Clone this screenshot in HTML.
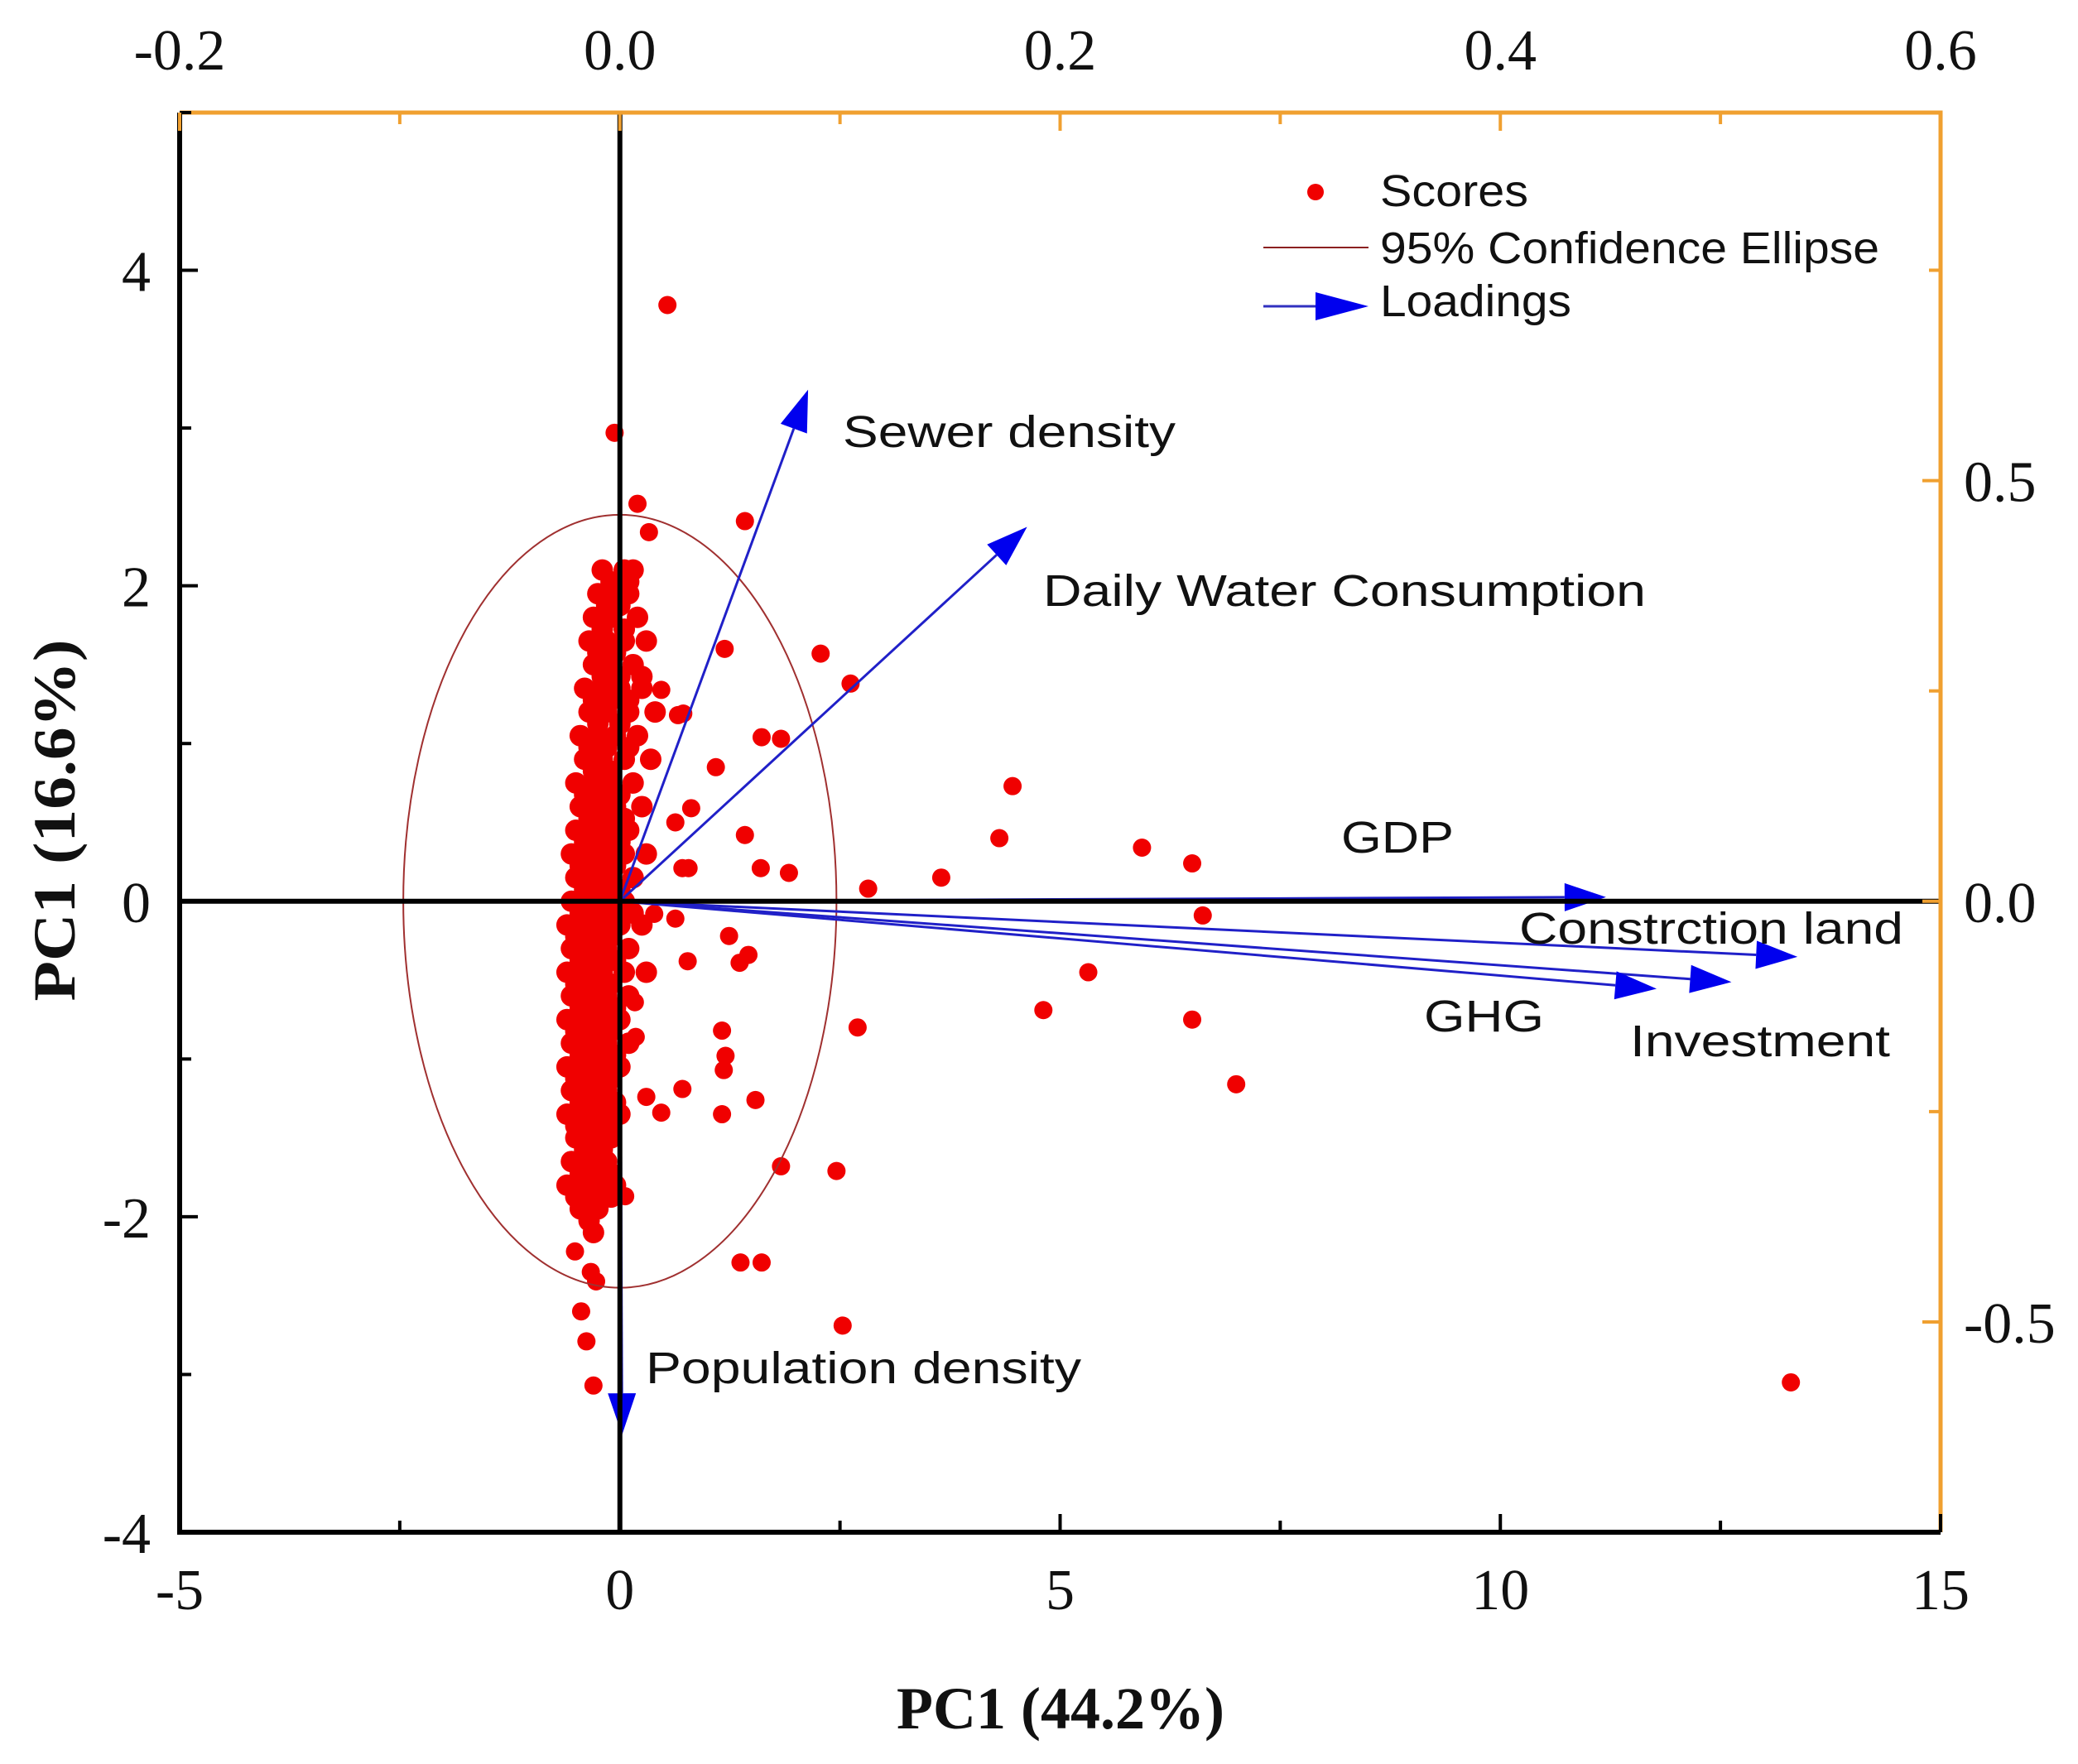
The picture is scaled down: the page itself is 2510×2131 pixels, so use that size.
<!DOCTYPE html>
<html><head><meta charset="utf-8"><style>
html,body{margin:0;padding:0;background:#fff;}
svg{display:block;}
.tk{font-family:"Liberation Serif",serif;font-size:70px;fill:#111;}
.lb{font-family:"Liberation Sans",sans-serif;font-size:54px;fill:#111;}
.tt{font-family:"Liberation Serif",serif;font-size:72px;font-weight:bold;fill:#111;}
</style></head><body>
<svg id="chart" width="2510" height="2131" viewBox="0 0 2510 2131" xmlns="http://www.w3.org/2000/svg">
<g id="scores"></g>
<g id="ell"></g>
<g id="load"></g>
<g id="axes"></g>
<g id="legend">
  <circle cx="1589" cy="232" r="10" fill="#f00000"/>
  <text class="lb" x="1667" y="249" textLength="179" lengthAdjust="spacingAndGlyphs">Scores</text>
  <line x1="1526" y1="299" x2="1653" y2="299" stroke="#8b2020" stroke-width="2"/>
  <text class="lb" x="1667" y="318" textLength="603" lengthAdjust="spacingAndGlyphs">95% Confidence Ellipse</text>
  <line x1="1526" y1="370" x2="1600" y2="370" stroke="#3030c0" stroke-width="3"/>
  <polygon points="1589,353 1653,370 1589,387" fill="#0000ee"/>
  <text class="lb" x="1667" y="382" textLength="231" lengthAdjust="spacingAndGlyphs">Loadings</text>
</g>
</svg>
<script>
// ---- data ----
const xTicksBottom = [-5, 0, 5, 10, 15];
const yTicksLeft = [-4, -2, 0, 2, 4];
const xTicksTop = [-0.2, 0.0, 0.2, 0.4, 0.6];
const xTickLabelsTop = ["-0.2", "0.0", "0.2", "0.4", "0.6"];
const yTicksRight = [-0.5, 0.0, 0.5];
const yTickLabelsRight = ["-0.5", "0.0", "0.5"];
const loadingNames = ["Sewer density","Daily Water Consumption","GDP","Constrction land","Investment","GHG","Population density"];
const loadingX = [0.0855, 0.185, 0.448, 0.535, 0.505, 0.471, 0.001];
const loadingY = [0.608, 0.445, 0.005, -0.066, -0.096, -0.104, -0.634];
const ellipseRx = 2.46;
const ellipseRy = 2.45;
const scoreOutliersX = [0.54,-0.06,0.2,0.33,1.42,1.19,2.28,2.62,1.61,1.83,1.09,4.46,4.31,5.93,6.5,6.62,2.82,3.65,1.92,1.6,1.42,0.78,0.71,0.63,0.81,0.66,0.72,0.47,5.32,4.81,6.5,7.0,2.7,1.24,0.77,1.36,1.46,1.16,1.2,1.18,0.71,0.47,1.54,1.16,1.83,2.46,1.37,1.61,2.53,13.3,-0.3,-0.38,-0.44,0.06,0.3,0.18,0.17,0.39,0.63,-0.51,-0.33,-0.27];
const scoreOutliersY = [3.78,2.97,2.52,2.34,2.41,1.6,1.57,1.38,1.04,1.03,0.85,0.73,0.4,0.34,0.24,-0.09,0.08,0.15,0.18,0.21,0.42,0.21,0.21,0.5,0.59,1.18,1.19,1.34,-0.45,-0.69,-0.75,-1.16,-0.8,-0.22,-0.38,-0.39,-0.34,-0.82,-0.98,-1.07,-1.19,-1.34,-1.26,-1.35,-1.68,-1.71,-2.29,-2.29,-2.69,-3.05,-3.07,-2.79,-2.6,-1.87,-1.24,-0.86,-0.64,-0.08,-0.11,-2.22,-2.35,-2.41];
const clusterRowY = [2.1,1.95,1.8,1.65,1.5,1.35,1.2,1.05,0.9,0.75,0.6,0.45,0.3,0.15,0.0,-0.15,-0.3,-0.45,-0.6,-0.75,-0.9,-1.05,-1.2,-1.35,-1.5,-1.65,-1.8,-1.95,-2.1];
const clusterRowX = [
 [-0.2,0.05,0.15],[-0.25,-0.05,0.1],[-0.3,-0.1,0.2],[-0.35,-0.15,0.05,0.3],[-0.3,-0.1,0.15],
 [-0.4,-0.2,0.0,0.25],[-0.35,-0.15,0.1,0.4],[-0.45,-0.25,-0.05,0.2],[-0.4,-0.2,0.05,0.35],[-0.5,-0.3,-0.1,0.15],
 [-0.45,-0.25,-0.05,0.25],[-0.5,-0.3,-0.1,0.1],[-0.55,-0.35,-0.15,0.05,0.3],[-0.5,-0.3,-0.1,0.15],[-0.55,-0.35,-0.15,0.05],
 [-0.6,-0.4,-0.2,0.0,0.25],[-0.55,-0.35,-0.15,0.1],[-0.6,-0.4,-0.2,0.05,0.3],[-0.55,-0.35,-0.15,0.1],[-0.6,-0.4,-0.2,0.0],
 [-0.55,-0.35,-0.15,0.1],[-0.6,-0.4,-0.2,0.0],[-0.55,-0.35,-0.15],[-0.6,-0.4,-0.2,0.0],[-0.5,-0.3,-0.1],
 [-0.55,-0.35,-0.15],[-0.6,-0.4,-0.2,-0.05],[-0.45,-0.25],[-0.3]
];
const clusterMidX = [
 [-0.1,0.1],[-0.15,0.0],[-0.2,0.05],[-0.25,-0.05],[-0.2,0.0,0.25],
 [-0.3,-0.1,0.1],[-0.25,0.0],[-0.35,-0.15,0.1],[-0.3,-0.1],[-0.4,-0.2,0.0],
 [-0.35,-0.15,0.05],[-0.4,-0.2,0.0],[-0.45,-0.25,-0.05],[-0.4,-0.2,0.0],[-0.45,-0.25,-0.05,0.15],
 [-0.5,-0.3,-0.1],[-0.45,-0.25,-0.05],[-0.5,-0.3,-0.1],[-0.45,-0.25,-0.05],[-0.5,-0.3,-0.1],
 [-0.45,-0.25,-0.05],[-0.5,-0.3,-0.1],[-0.45,-0.25,-0.05],[-0.5,-0.3,-0.1],[-0.4,-0.2],
 [-0.45,-0.25,-0.1],[-0.5,-0.3,-0.1],[-0.35]
];
// ---- axes functions ----
const L=217,R=2344,T=136,B=1851;
const xs=v=>L+(v+5)/20*(R-L);
const ys=v=>B-(v+4)/9*(B-T);
const xt=v=>xs(0)+v/0.6*(xs(15)-xs(0));
const yr=v=>ys(0)-v/0.5*(ys(0)-ys(2.667));
const NS="http://www.w3.org/2000/svg";
function mk(tag,attrs,parent,txt){const e=document.createElementNS(NS,tag);for(const k in attrs)e.setAttribute(k,attrs[k]);if(txt!==undefined)e.textContent=txt;parent.appendChild(e);return e;}
const gS=document.getElementById('scores'),gE=document.getElementById('ell'),gL=document.getElementById('load'),gA=document.getElementById('axes');
function dot(x,y,r){const c=mk('circle',{cx:xs(x),cy:ys(y),r:r,fill:'#f00000'},gS);

}
clusterRowY.forEach((y,i)=>clusterRowX[i].forEach(x=>dot(x,y,13)));
clusterMidX.forEach((row,i)=>{const y=(clusterRowY[i]+clusterRowY[i+1])/2;row.forEach(x=>dot(x,y,13));});
scoreOutliersX.forEach((x,i)=>dot(x,scoreOutliersY[i],11));
const el=mk('ellipse',{cx:xs(0),cy:ys(0),rx:xs(ellipseRx)-xs(0),ry:ys(0)-ys(ellipseRy),fill:'none',stroke:'#a03030','stroke-width':2},gE);


const hl=mk('line',{x1:L,y1:ys(0),x2:R,y2:ys(0),stroke:'#000','stroke-width':6},gA);


const vl=mk('line',{x1:xs(0),y1:T,x2:xs(0),y2:B,stroke:'#000','stroke-width':6},gA);


const labelPos=[[1018,540,402],[1260,732,728],[1620,1030,136],[1835,1140,464],[1969,1276,314],[1720,1246,145],[780,1671,526]];
loadingNames.forEach((n,i)=>{
 const x0=xt(0),y0=yr(0),x1=xt(loadingX[i]),y1=yr(loadingY[i]);
 const dx=x1-x0,dy=y1-y0,len=Math.hypot(dx,dy),ux=dx/len,uy=dy/len,hl=50,hw=17;
 const bx=x1-ux*hl,by=y1-uy*hl;
 const ln=mk('line',{x1:x0,y1:y0,x2:bx,y2:by,stroke:'#2020c8','stroke-width':3},gL);
 
 
 const hd=mk('polygon',{points:`${x1},${y1} ${bx-uy*hw},${by+ux*hw} ${bx+uy*hw},${by-ux*hw}`,fill:'#0000ee'},gL);
 
 
 const p=labelPos[i];
 const t=mk('text',{class:'lb',x:p[0],y:p[1],textLength:p[2],lengthAdjust:'spacingAndGlyphs'},gL,n);
 
 
});
const ob=mk('polyline',{points:`${L},${T} ${R},${T} ${R},${B}`,fill:'none',stroke:'#f0a030','stroke-width':5},gA);


const bb=mk('polyline',{points:`${L},${T} ${L},${B} ${R},${B}`,fill:'none',stroke:'#000','stroke-width':6},gA);


for(let v=-5;v<=15;v+=2.5){const major=xTicksBottom.includes(v);
 const t=mk('line',{x1:xs(v),y1:B,x2:xs(v),y2:B-(major?22:14),stroke:'#000','stroke-width':4},gA);
 
 }
xTicksBottom.forEach(v=>{const t=mk('text',{class:'tk',x:xs(v),y:1944,'text-anchor':'middle'},gA,String(v));
 
 });
for(let v=-4;v<=5;v+=1){const major=yTicksLeft.includes(v);
 const t=mk('line',{x1:L,y1:ys(v),x2:L+(major?22:14),y2:ys(v),stroke:'#000','stroke-width':4},gA);
 
 }
yTicksLeft.forEach(v=>{const t=mk('text',{class:'tk',x:182,y:ys(v)+25,'text-anchor':'end'},gA,String(v));
 
 });
for(let k=-2;k<=6;k++){const v=k/10;const major=(k%2===0);
 const t=mk('line',{x1:xt(v),y1:T,x2:xt(v),y2:T+(major?22:14),stroke:'#f0a030','stroke-width':4},gA);
 
 }
xTicksTop.forEach((v,i)=>{const t=mk('text',{class:'tk',x:xt(v),y:84,'text-anchor':'middle'},gA,xTickLabelsTop[i]);
 
 });
for(let k=-3;k<=3;k++){const v=k*0.25;if(yr(v)<T||yr(v)>B)continue;const major=(k%2===0);
 const t=mk('line',{x1:R,y1:yr(v),x2:R-(major?22:14),y2:yr(v),stroke:'#f0a030','stroke-width':4},gA);
 
 }
yTicksRight.forEach((v,i)=>{const t=mk('text',{class:'tk',x:2372,y:yr(v)+25},gA,yTickLabelsRight[i]);
 
 });
const xtit=mk('text',{class:'tt',x:1281,y:2088,'text-anchor':'middle'},gA,'PC1 (44.2%)');


const ytit=mk('text',{class:'tt',x:0,y:0,'text-anchor':'middle',transform:'translate(90,991) rotate(-90)',textLength:437,lengthAdjust:'spacingAndGlyphs'},gA,'PC1 (16.6%)');


</script>
</body></html>
